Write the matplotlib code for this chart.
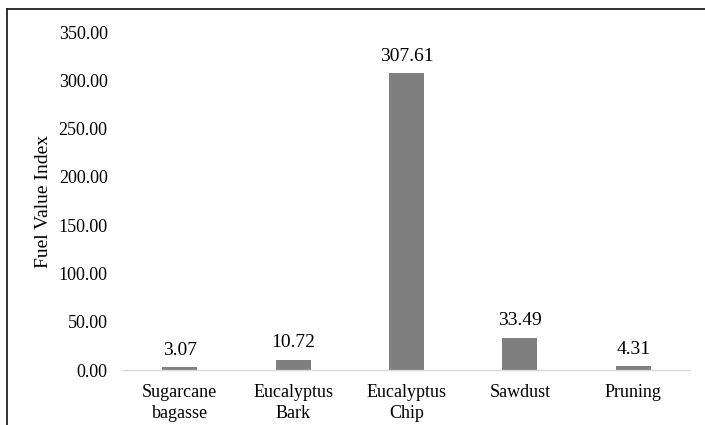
import matplotlib
matplotlib.use("Agg")
import matplotlib.pyplot as plt
from matplotlib.lines import Line2D

categories = ["Sugarcane\nbagasse", "Eucalyptus\nBark", "Eucalyptus\nChip", "Sawdust", "Pruning"]
values = [3.07, 10.72, 307.61, 33.49, 4.31]
yticks = [0, 50, 100, 150, 200, 250, 300, 350]

plt.rcParams['font.family'] = ['Liberation Serif', 'DejaVu Serif']

fig = plt.figure(figsize=(7.05, 4.25), dpi=100)
ax = fig.add_axes([0.1745, 0.1294, 0.8042, 0.7953])

x = range(len(categories))
bars = ax.bar(x, values, width=0.31, color='#7f7f7f', zorder=2)

for xi, v in zip(x, values):
    ax.annotate(f"{v:.2f}", (xi, v), xytext=(0, 6), textcoords='offset points',
                ha='center', va='bottom', fontsize=14)

ax.set_xlim(-0.5, len(categories) - 0.5)
ax.set_ylim(0, 350)
ax.set_yticks(yticks)
ax.set_yticklabels([f"{t:.2f}" for t in yticks], fontsize=13)
ax.set_xticks(list(x))
ax.set_xticklabels(categories, fontsize=13, linespacing=1.3)
ax.tick_params(axis='both', length=0)
ax.tick_params(axis='y', pad=11)
ax.tick_params(axis='x', pad=10)

for s in ['top', 'right', 'left']:
    ax.spines[s].set_visible(False)
ax.spines['bottom'].set_color('#d9d9d9')
ax.spines['bottom'].set_linewidth(1.0)

fig.text(0.062, 0.525, "Fuel Value Index", rotation=90, ha='center', va='center', fontsize=14)

# outer frame (top and left only, picture cropped on the other sides)
fig.add_artist(Line2D([0.0099, 1.0], [0.978, 0.978], color='#222222', lw=1.3))
fig.add_artist(Line2D([0.0099, 0.0099], [0.0, 0.978], color='#222222', lw=1.3))

fig.savefig("out.png", dpi=100, facecolor='white')
